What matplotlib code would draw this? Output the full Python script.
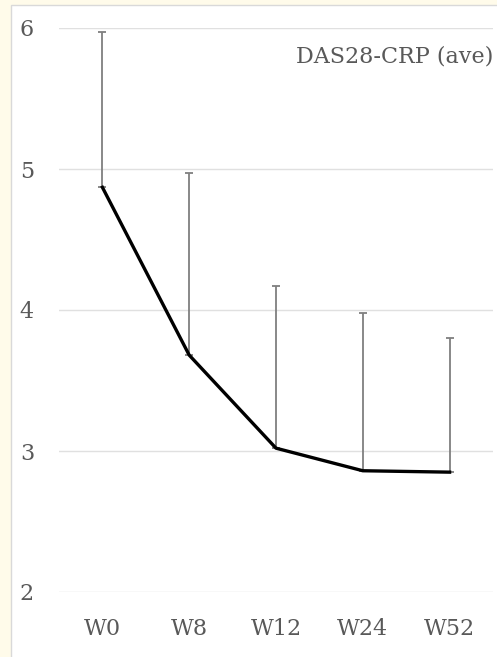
import matplotlib.pyplot as plt
from matplotlib.patches import Rectangle
import numpy as np

# data
weeks = ['W0', 'W8', 'W12', 'W24', 'W52']
das28_mean = [4.87, 3.68, 3.02, 2.86, 2.85]
das28_err_top = [5.97, 4.97, 4.17, 3.98, 3.80]
y_ticks = [2, 3, 4, 5, 6]

W, H = 497, 657
fig = plt.figure(figsize=(W / 100, H / 100), dpi=100)
fig.patch.set_facecolor('#fffbea')

# white panel with thin grey border (behind the axes)
fig.patches.append(Rectangle((11 / W, -0.01), 1.0, (H - 5) / H + 0.01,
                             transform=fig.transFigure, facecolor='white',
                             edgecolor='#d9d9d9', linewidth=1, zorder=-10))

ax = fig.add_axes([59 / W, (H - 592) / H, (493 - 59) / W, (592 - 28) / H])
ax.set_facecolor('none')
ax.set_zorder(1)

x = np.arange(len(weeks))
err_up = np.array(das28_err_top) - np.array(das28_mean)
ax.errorbar(x, das28_mean, yerr=[np.zeros(len(x)), err_up], fmt='none',
            ecolor='#7f7f7f', elinewidth=1.3, capsize=3, capthick=1.3, zorder=2)
ax.plot(x, das28_mean, color='black', linewidth=2.4, zorder=3)

ax.set_xlim(-0.5, len(weeks) - 0.5)
ax.set_ylim(2, 6)
ax.set_yticks(y_ticks)
ax.grid(axis='y', color='#e0e0e0', linewidth=1)
ax.set_axisbelow(True)
for s in ax.spines.values():
    s.set_visible(False)

font = dict(family='DejaVu Serif', size=16, color='#595959')
ax.set_xticks(x)
ax.set_xticklabels(weeks, **font)
ax.set_yticklabels([str(t) for t in y_ticks], **font)
ax.tick_params(axis='both', length=0)
ax.tick_params(axis='x', pad=19)
ax.tick_params(axis='y', pad=18)

ax.text(1.0, 0.95, 'DAS28-CRP (ave)', transform=ax.transAxes,
        ha='right', va='center', **font)

fig.savefig('out.png', dpi=100, facecolor=fig.get_facecolor())
